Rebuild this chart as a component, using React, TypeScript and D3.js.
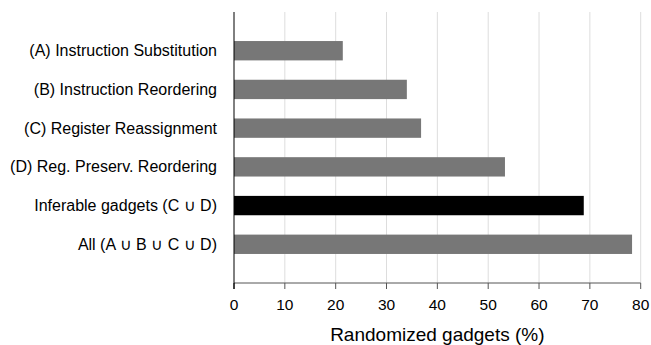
import React from "react";
import * as d3 from "d3";

const categories = [
  "(A) Instruction Substitution",
  "(B) Instruction Reordering",
  "(C) Register Reassignment",
  "(D) Reg. Preserv. Reordering",
  "Inferable gadgets (C \u222A D)",
  "All (A \u222A B \u222A C \u222A D)",
];
const values = [21.4, 34.0, 36.8, 53.3, 68.8, 78.3];
const highlight = [false, false, false, false, true, false];
const xTicks = [0, 10, 20, 30, 40, 50, 60, 70, 80];

const W = 651;
const H = 345;
const margin = { top: 12, left: 234, bottom: 283, right: 640.7 };
const font = "'Liberation Sans', Arial, Helvetica, sans-serif";

export default function App() {
  const x = d3.scaleLinear().domain([0, 80]).range([margin.left, margin.right]);
  const y = d3
    .scaleBand()
    .domain(categories)
    .range([margin.top, margin.bottom])
    .paddingInner(0.5)
    .paddingOuter(0.75);
  const y0 = margin.top;
  const y1 = margin.bottom;

  return (
    <svg
      width={W}
      height={H}
      style={{ position: "absolute", left: 0, top: 0, fontFamily: font }}
    >
      {/* grid */}
      {xTicks.slice(1).map((t) => (
        <line
          key={"g" + t}
          x1={x(t)}
          x2={x(t)}
          y1={y0}
          y2={y1}
          stroke="#dddddd"
          strokeWidth={1}
        />
      ))}
      {/* bars */}
      {categories.map((c, i) => (
        <rect
          key={c}
          x={x(0)}
          y={y(c)}
          width={x(values[i]) - x(0)}
          height={y.bandwidth()}
          fill={highlight[i] ? "#000000" : "#777777"}
        />
      ))}
      {/* bottom axis */}
      <line x1={x(0)} x2={x(80)} y1={y1} y2={y1} stroke="#555555" />
      {xTicks.map((t) => (
        <g key={"t" + t}>
          <line
            x1={x(t)}
            x2={x(t)}
            y1={y1}
            y2={y1 + 6}
            stroke={t === 0 ? "#000000" : "#555555"}
          />
          <text
            x={x(t)}
            y={y1 + 22}
            dy="0.35em"
            textAnchor="middle"
            fontSize={15.5}
            fill="#000"
          >
            {t}
          </text>
        </g>
      ))}
      {/* left axis */}
      <line x1={x(0)} x2={x(0)} y1={y0} y2={y1 + 6} stroke="#000000" />
      {categories.map((c) => (
        <text
          key={"l" + c}
          x={x(0) - 17}
          y={(y(c) ?? 0) + y.bandwidth() / 2}
          dy="0.35em"
          textAnchor="end"
          fontSize={16}
          fill="#000"
        >
          {c}
        </text>
      ))}
      <text
        x={(x(0) + x(80)) / 2}
        y={334}
        dy="0.35em"
        textAnchor="middle"
        fontSize={19}
        fill="#000"
      >
        Randomized gadgets (%)
      </text>
    </svg>
  );
}
